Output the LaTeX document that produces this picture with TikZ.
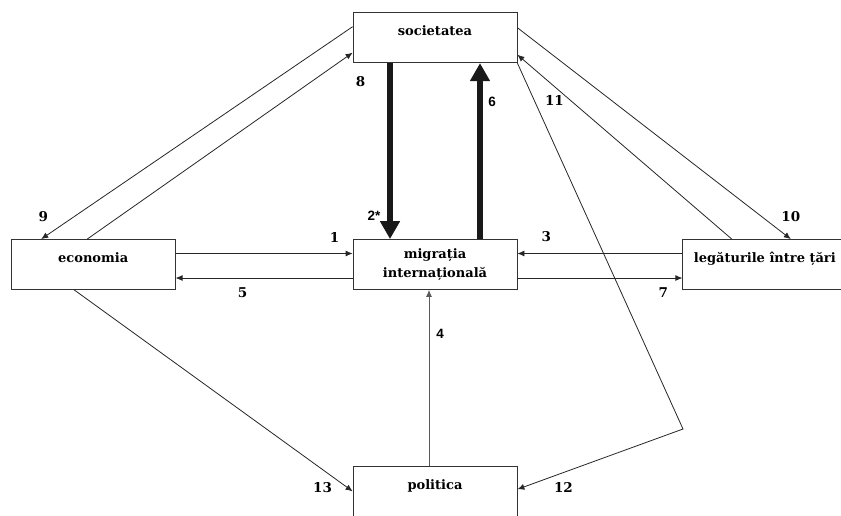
\documentclass[tikz,border=0pt]{standalone}
\usepackage{fontspec}
\setmainfont{DejaVu Serif}
\newfontfamily\numsans{Liberation Sans}
\usetikzlibrary{arrows.meta}
\usetikzlibrary{positioning}

\begin{document}
\begin{tikzpicture}[x=1pt, y=-1pt,
    box/.style={draw=black!80, line width=0.8pt, minimum width=164pt, minimum height=50pt,
      inner sep=0pt, font=\bfseries\fontsize{13}{18.5}\selectfont},
    onebox/.style={box, text height=10pt, text depth=14pt},
    link/.style={draw=black!85, line width=0.8pt, -{Latex[length=7pt,width=6pt]}},
    strong/.style={draw=black!90, line width=5.5pt, -{Triangle[length=18pt,width=19pt]}},
    num/.style={font=\bfseries\fontsize{13.5}{15}\selectfont, inner sep=0pt},
    snum/.style={font=\numsans\bfseries\fontsize{13.5}{15}\selectfont, inner sep=0pt}]
  \useasboundingbox (0,0) rectangle (841,515);

  \node[box, align=center] (mig) at (435,264.5) {migrația\\internațională};
  \node[onebox, above=176pt of mig] (soc) {societatea};
  \node[onebox, left=177pt of mig] (eco) {economia};
  \node[onebox, right=165pt of mig] (leg) {legăturile între țări};
  \node[onebox, below=176pt of mig] (pol) {politica};
  \coordinate (bend) at (683,429);

  \draw[strong] ([xshift=-45pt]soc.south) -- ([xshift=-45pt]mig.north)
    node[snum, at end, shift={(-16,-23.5)}] {2*};
  \draw[strong] ([xshift=45pt]mig.north) -- ([xshift=45pt]soc.south)
    node[snum, at end, shift={(12,39)}] {6};

  \draw[link] ([yshift=11pt]eco.east) -- ([yshift=11pt]mig.west)
    node[num, at end, shift={(-18,-16)}] {1};
  \draw[link] ([yshift=-13.5pt]mig.west) -- ([yshift=-13.5pt]eco.east)
    node[num, at end, shift={(67,15)}] {5};
  \draw[link] ([yshift=11pt]leg.west) -- ([yshift=11pt]mig.east)
    node[num, at end, shift={(29,-17)}] {3};
  \draw[link] ([yshift=-13.5pt]mig.east) -- ([yshift=-13.5pt]leg.west)
    node[num, at end, shift={(-19,15)}] {7};
  \draw[link, draw=black!65] ([xshift=-6pt]pol.north) -- ([xshift=-6pt]mig.south)
    node[snum, at end, shift={(11,43.5)}] {4};

  \draw[link] ([yshift=11pt]soc.west) -- ([xshift=-52pt]eco.north)
    node[num, at end, shift={(2,-22.5)}] {9};
  \draw[link] ([xshift=-6pt]eco.north) -- ([yshift=-15pt]soc.west)
    node[num, at end, shift={(8,29)}] {8};
  \draw[link] ([yshift=10pt]soc.east) -- ([xshift=26pt]leg.north)
    node[num, at end, shift={(0,-22.5)}] {10};
  \draw[link] ([xshift=-33pt]leg.north) -- ([yshift=-17pt]soc.east)
    node[num, at end, shift={(37,46)}] {11};
  \draw[link] (soc.south east) -- (bend) -- ([yshift=2pt]pol.east)
    node[num, at end, shift={(46,-2)}] {12};
  \draw[link] ([xshift=-19pt]eco.south) -- (pol.west)
    node[num, at end, shift={(-30,-4)}] {13};
\end{tikzpicture}
\end{document}
